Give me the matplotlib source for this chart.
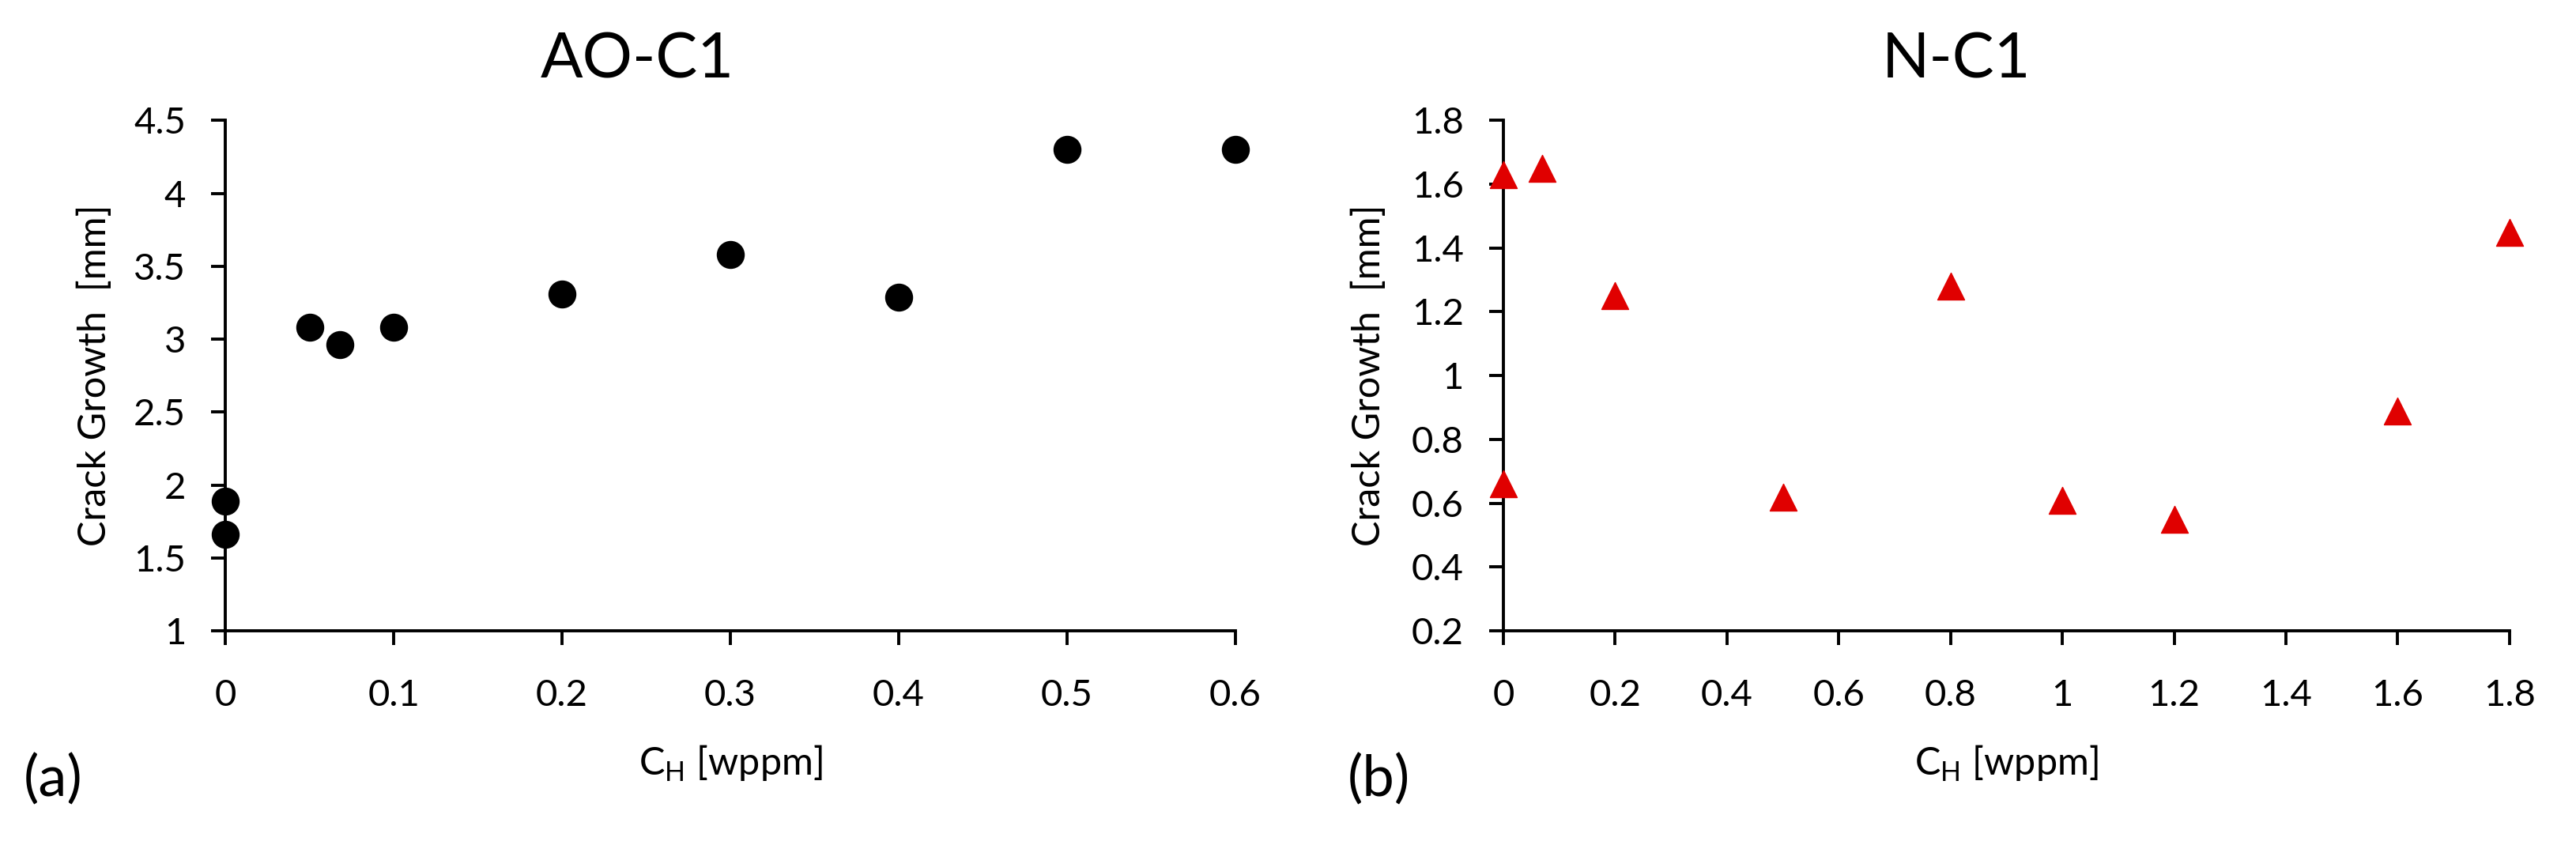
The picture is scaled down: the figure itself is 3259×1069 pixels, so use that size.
import matplotlib
matplotlib.use("Agg")
import matplotlib.pyplot as plt

plt.rcParams['font.family'] = ['Lato', 'DejaVu Sans']

# AO-C1 data
ch_ao = [0, 0, 0.05, 0.068, 0.1, 0.2, 0.3, 0.4, 0.5, 0.6]
growth_ao = [1.89, 1.66, 3.08, 2.96, 3.08, 3.31, 3.58, 3.29, 4.30, 4.30]

# N-C1 data
ch_n = [0, 0, 0.07, 0.2, 0.5, 0.8, 1.0, 1.2, 1.6, 1.8]
growth_n = [1.63, 0.66, 1.65, 1.25, 0.62, 1.28, 0.61, 0.55, 0.89, 1.45]

xticks_ao = [0, 0.1, 0.2, 0.3, 0.4, 0.5, 0.6]
yticks_ao = [1, 1.5, 2, 2.5, 3, 3.5, 4, 4.5]
xticks_n = [0, 0.2, 0.4, 0.6, 0.8, 1, 1.2, 1.4, 1.6, 1.8]
yticks_n = [0.2, 0.4, 0.6, 0.8, 1, 1.2, 1.4, 1.6, 1.8]


def fmt(v):
    s = '%.1f' % v
    return s[:-2] if s.endswith('.0') else s


def style_axes(ax, xt, yt, ylab_x):
    for side in ['top', 'right']:
        ax.spines[side].set_visible(False)
    for side in ['left', 'bottom']:
        ax.spines[side].set_linewidth(2.8)
    ax.set_xticks(xt)
    ax.set_xticklabels([fmt(v) for v in xt])
    ax.set_yticks(yt)
    ax.set_yticklabels([fmt(v) for v in yt])
    ax.set_xlim(xt[0], xt[-1])
    ax.set_ylim(yt[0], yt[-1])
    ax.tick_params(direction='out', length=13, width=2.8, labelsize=34)
    ax.tick_params(axis='y', pad=23)
    ax.tick_params(axis='x', pad=31)
    ax.set_xlabel('C$_\\mathregular{H}$ [wppm]', fontsize=35)
    ax.set_ylabel('Crack Growth  [mm]', fontsize=35)
    ax.xaxis.set_label_coords(0.5, -0.222)
    ax.yaxis.set_label_coords(ylab_x, 0.5)


fig = plt.figure(figsize=(32.59, 10.69), dpi=100)
ax1 = fig.add_axes([0.0875, 0.2535, 0.392, 0.604])
ax2 = fig.add_axes([0.5836, 0.2535, 0.3906, 0.604])

ax1.scatter(ch_ao, growth_ao, s=600, marker='o', color='black', zorder=3, clip_on=False)
ax2.scatter(ch_n, growth_n, s=600, marker='^', color='#e00000', zorder=3, clip_on=False)

style_axes(ax1, xticks_ao, yticks_ao, -0.112)
style_axes(ax2, xticks_n, yticks_n, -0.116)

# chart titles sit centred on each chart area, not on the plot area
fig.text(0.2473, 0.9083, 'AO-C1', fontsize=57, ha='center', va='baseline')
fig.text(0.7594, 0.9083, 'N-C1', fontsize=57, ha='center', va='baseline')

fig.text(0.0092, 0.077, '(a)', fontsize=52, ha='left', va='center')
fig.text(0.5232, 0.077, '(b)', fontsize=52, ha='left', va='center')

fig.savefig('out.png', dpi=100)
